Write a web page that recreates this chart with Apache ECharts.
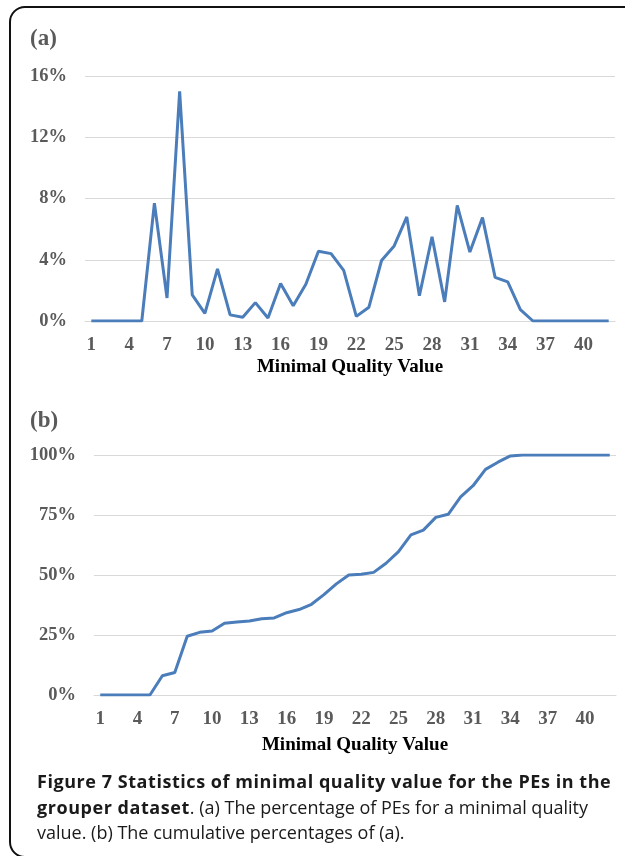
<!DOCTYPE html>
<html>
<head>
<meta charset="utf-8">
<script src="https://cdn.jsdelivr.net/npm/echarts@6/dist/echarts.min.js"></script>
<style>
  html, body { margin: 0; padding: 0; background: #fff; }
  body { width: 625px; height: 856px; position: relative; overflow: hidden; }
  #frame { position: absolute; left: 9px; top: 6px; width: 700px; height: 852px;
           border: 2px solid #111; border-radius: 16px; box-sizing: border-box; }
  #chart { position: absolute; left: 0; top: 0; width: 625px; height: 856px; }
  #caption { position: absolute; left: 37px; top: 769px; font-family: "Open Sans", sans-serif;
             font-size: 18px; line-height: 25.5px; color: #1a1a1a; white-space: nowrap; }
  #caption b { font-weight: 700; letter-spacing: 0.55px; }
</style>
</head>
<body>
<div id="frame"></div>
<div id="chart"></div>
<div id="caption"><b>Figure 7 Statistics of minimal quality value for the PEs in the<br>grouper dataset</b>. (a) The percentage of PEs for a minimal quality<br>value. (b) The cumulative percentages of (a).</div>
<script>
// Minimal quality values 1..42
const categories = [];
for (let i = 1; i <= 42; i++) categories.push(String(i));

// (a) percentage of PEs for each minimal quality value
const percentValues = [
  0, 0, 0, 0, 0, 7.7, 1.5, 15.0, 1.7, 0.5,
  3.4, 0.4, 0.25, 1.2, 0.2, 2.45, 1.0, 2.4, 4.55, 4.4,
  3.3, 0.3, 0.9, 3.95, 4.9, 6.8, 1.65, 5.5, 1.25, 7.55,
  4.5, 6.75, 2.85, 2.55, 0.75, 0, 0, 0, 0, 0,
  0, 0
];

// (b) cumulative percentages
const cumulativeValues = [
  0, 0, 0, 0, 0, 8.0, 9.4, 24.5, 26.1, 26.7,
  29.9, 30.4, 30.8, 31.8, 32.1, 34.3, 35.6, 37.8, 41.8, 46.3,
  50.0, 50.3, 51.1, 54.9, 59.7, 66.7, 68.7, 74.0, 75.3, 82.6,
  87.2, 94.0, 97.0, 99.6, 100, 100, 100, 100, 100, 100,
  100, 100
];

const yTicksA = { min: 0, max: 16, interval: 4 };
const yTicksB = { min: 0, max: 100, interval: 25 };

const serif = '"Liberation Serif", "Times New Roman", serif';
const tickColor = '#5a5a5a';
const lineColor = '#4a7dba';
const gridColor = '#d9d9d9';

function xAxis(gridIndex, gap) {
  return {
    type: 'category', gridIndex: gridIndex, data: categories, boundaryGap: true,
    axisLine: { show: true, lineStyle: { color: gridColor, width: 1 } },
    axisTick: { show: false },
    axisLabel: { interval: 2, color: tickColor, fontFamily: serif, fontWeight: 'bold', fontSize: 19, margin: 15 },
    name: 'Minimal Quality Value', nameLocation: 'middle', nameGap: gap,
    nameTextStyle: { color: '#000', fontFamily: serif, fontWeight: 'bold', fontSize: 19 }
  };
}
function yAxis(gridIndex, t) {
  return {
    type: 'value', gridIndex: gridIndex, min: t.min, max: t.max, interval: t.interval,
    axisLine: { show: false }, axisTick: { show: false },
    splitLine: { lineStyle: { color: gridColor, width: 1 } },
    axisLabel: { formatter: '{value}%', color: tickColor, fontFamily: serif, fontWeight: 'bold', fontSize: 18.5, margin: 18 }
  };
}

const chart = echarts.init(document.getElementById('chart'), null, { renderer: 'canvas' });
chart.setOption({
  animation: false,
  title: [
    { text: '(a)', left: 25, top: 23, textStyle: { fontFamily: serif, fontWeight: 'bold', fontSize: 23, color: tickColor } },
    { text: '(b)', left: 25, top: 405, textStyle: { fontFamily: serif, fontWeight: 'bold', fontSize: 23, color: tickColor } }
  ],
  grid: [
    { left: 85, top: 76, width: 530, height: 245 },
    { left: 94, top: 455, width: 522, height: 240 }
  ],
  xAxis: [xAxis(0, 37), xAxis(1, 41)],
  yAxis: [yAxis(0, yTicksA), yAxis(1, yTicksB)],
  series: [
    { type: 'line', xAxisIndex: 0, yAxisIndex: 0, data: percentValues, showSymbol: false,
      lineStyle: { color: lineColor, width: 3 }, itemStyle: { color: lineColor } },
    { type: 'line', xAxisIndex: 1, yAxisIndex: 1, data: cumulativeValues, showSymbol: false,
      lineStyle: { color: lineColor, width: 3 }, itemStyle: { color: lineColor } }
  ]
});
</script>
</body>
</html>
